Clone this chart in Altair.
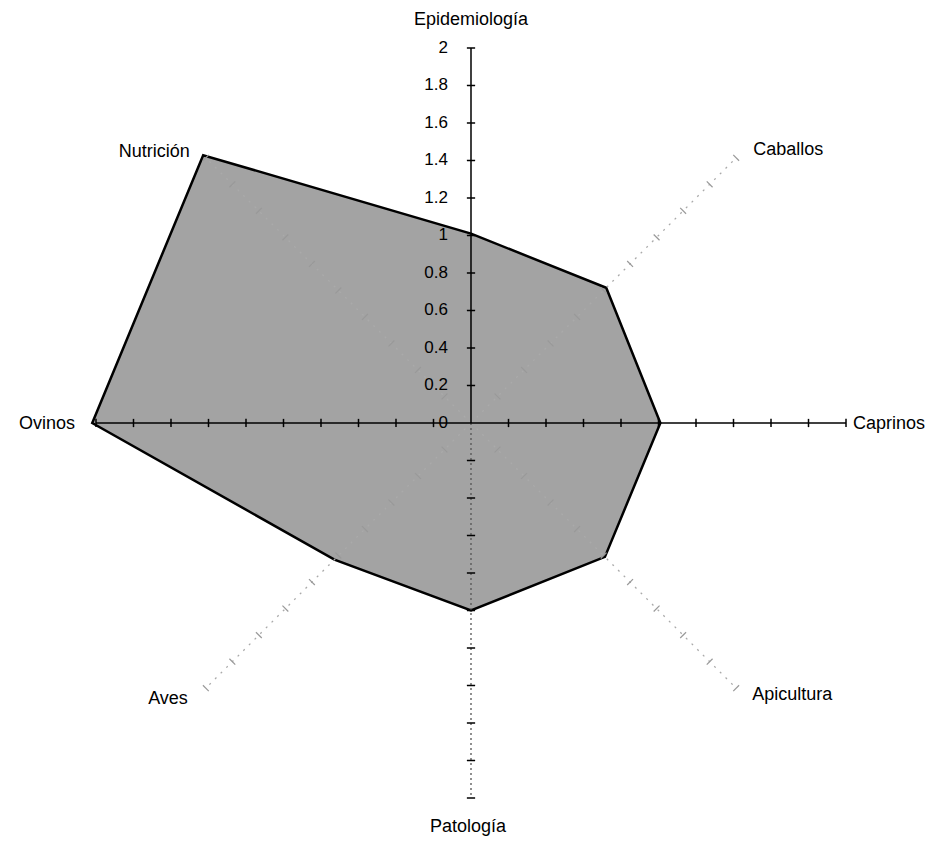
import altair as alt
import pandas as pd

categories = ["Epidemiología", "Caballos", "Caprinos", "Apicultura",
              "Patología", "Aves", "Ovinos", "Nutrición"]
values = [1.01, 1.02, 1.01, 1.01, 1.0, 1.03, 2.02, 2.02]
tick_values = [0.0, 0.2, 0.4, 0.6, 0.8, 1.0, 1.2, 1.4, 1.6, 1.8, 2.0]
tick_labels = ["0", "0.2", "0.4", "0.6", "0.8", "1", "1.2", "1.4", "1.6", "1.8", "2"]
axis_max = 2.0

n = len(categories)
main_axis = [1 if i % 2 == 0 else 0 for i in range(n)]

poly_df = pd.DataFrame({"cat": categories, "idx": list(range(n)), "r": values})
axes_df = pd.DataFrame({"cat": categories, "idx": list(range(n)),
                        "r": [axis_max] * n, "main": main_axis})
ticks_df = pd.DataFrame([{"idx": i, "v": v, "main": main_axis[i]}
                         for i in range(n) for v in tick_values[1:]])
tlab_df = pd.DataFrame({"v": tick_values, "lab": tick_labels})

W, H = 929, 835
xdom = [-2.4693, 2.4853]
ydom = [-2.24, 2.2133]
FONT = "Liberation Sans"

ANG = "(PI/2 - datum.idx*PI/4)"
X = lambda f: alt.X(f, type="quantitative", scale=alt.Scale(domain=xdom, nice=False, zero=False), axis=None)
Y = lambda f: alt.Y(f, type="quantitative", scale=alt.Scale(domain=ydom, nice=False, zero=False), axis=None)

polygon = alt.Chart(poly_df).transform_calculate(
    x=f"datum.r*cos{ANG}", y=f"datum.r*sin{ANG}"
).mark_line(interpolate="linear-closed", fill="#a3a3a3", stroke="black",
            strokeWidth=2.5, fillOpacity=1).encode(
    x=X("x"), y=Y("y"), order=alt.Order("idx:Q")
)

axes_base = alt.Chart(axes_df).transform_calculate(
    x0="0", y0="0", x=f"datum.r*cos{ANG}", y=f"datum.r*sin{ANG}"
)
main_axes = axes_base.transform_filter("datum.main == 1 && datum.idx != 4").mark_rule(
    color="black", strokeWidth=1.5).encode(x=X("x0"), y=Y("y0"), x2="x:Q", y2="y:Q")
bottom_axis = axes_base.transform_filter("datum.idx == 4").mark_rule(
    color="#555555", strokeWidth=1.3, strokeDash=[2, 3]).encode(x=X("x0"), y=Y("y0"), x2="x:Q", y2="y:Q")
diag_axes = axes_base.transform_filter("datum.main == 0").mark_rule(
    color="#aaaaaa", strokeWidth=1.3, strokeDash=[2, 6]).encode(x=X("x0"), y=Y("y0"), x2="x:Q", y2="y:Q")

tick_base = alt.Chart(ticks_df).transform_calculate(
    xa=f"datum.v*cos{ANG} - 0.022*sin{ANG}", ya=f"datum.v*sin{ANG} + 0.022*cos{ANG}",
    xb=f"datum.v*cos{ANG} + 0.022*sin{ANG}", yb=f"datum.v*sin{ANG} - 0.022*cos{ANG}"
)
main_ticks = tick_base.transform_filter("datum.main == 1").mark_rule(
    color="black", strokeWidth=1.5).encode(x=X("xa"), y=Y("ya"), x2="xb:Q", y2="yb:Q")
diag_ticks = tick_base.transform_filter("datum.main == 0").mark_rule(
    color="#999999", strokeWidth=1.2).encode(x=X("xa"), y=Y("ya"), x2="xb:Q", y2="yb:Q")

tick_text = alt.Chart(tlab_df).transform_calculate(x0="0").mark_text(
    align="right", baseline="middle", dx=-23, font=FONT, fontSize=17, color="black"
).encode(x=X("x0"), y=Y("v"), text="lab:N")

label_style = {
    "Epidemiología": dict(align="center", dx=0, dy=-28),
    "Caballos": dict(align="left", dx=17, dy=-8),
    "Caprinos": dict(align="left", dx=7, dy=1),
    "Apicultura": dict(align="left", dx=16, dy=7),
    "Patología": dict(align="center", dx=-3, dy=29),
    "Aves": dict(align="right", dx=-18, dy=11),
    "Ovinos": dict(align="right", dx=-21, dy=1),
    "Nutrición": dict(align="right", dx=-16, dy=-6),
}
label_layers = []
for c in categories:
    st = label_style[c]
    label_layers.append(
        axes_base.transform_filter(alt.datum.cat == c).mark_text(
            baseline="middle", font=FONT, fontSize=18, color="black", **st
        ).encode(x=X("x"), y=Y("y"), text="cat:N")
    )

chart = alt.layer(
    polygon, diag_axes, diag_ticks, bottom_axis, main_axes, main_ticks, tick_text, *label_layers
).properties(
    width=W, height=H, padding=0, background="white",
    autosize=alt.AutoSizeParams(type="none")
).configure_view(stroke=None)

chart.save("out.html", embed_options={"renderer": "svg", "actions": False})
